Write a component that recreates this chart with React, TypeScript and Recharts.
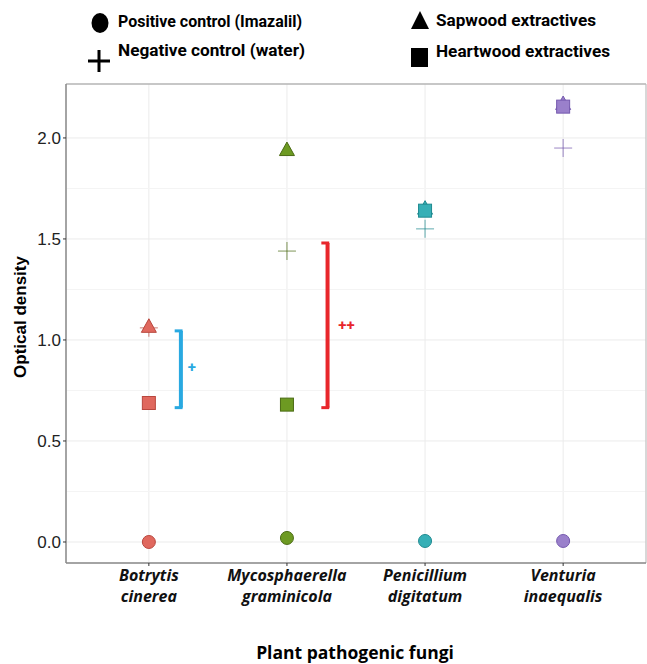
import React from 'react';
import { ScatterChart, Scatter, XAxis, YAxis, CartesianGrid, ReferenceLine, ReferenceDot } from 'recharts';

// fungi (two-line labels, italic)
const fungi = [
  ['Botrytis', 'cinerea'],
  ['Mycosphaerella', 'graminicola'],
  ['Penicillium', 'digitatum'],
  ['Venturia', 'inaequalis'],
];

// optical density
const positiveControl = [0.0, 0.02, 0.005, 0.005];
const negativeControl = [1.06, 1.44, 1.55, 1.95];
const sapwood = [1.065, 1.94, 1.65, 2.168];
const heartwood = [0.688, 0.68, 1.64, 2.155];

// significance brackets
const bracketCategory = [1, 2];
const bracketLow = [0.665, 0.665];
const bracketHigh = [1.045, 1.48];
const bracketLabels = ['+', '++'];

const yTicks = [0, 0.5, 1, 1.5, 2];
const yMinor = [0.25, 0.75, 1.25, 1.75];

const FILL = ['#E0685E', '#6D9A22', '#36AFB6', '#9A80CB'];
const EDGE = ['#B9473E', '#4B6B14', '#1F8A90', '#7559AE'];
const BRACKET = ['#29A9E1', '#E8262B'];

const Y_MIN = -0.104;
const Y_MAX = 2.267;
const X_MIN = 0.4;
const X_MAX = 4.6;

const toRows = (vals: number[]) => vals.map((y, i) => ({ x: i + 1, y, i }));

const Circle = (p: any) => (
  <circle cx={p.cx} cy={p.cy} r={6.5} fill={FILL[p.payload.i]} stroke={EDGE[p.payload.i]} strokeWidth={1} />
);
const Square = (p: any) => (
  <rect x={p.cx - 6.5} y={p.cy - 6.5} width={13} height={13} fill={FILL[p.payload.i]} stroke={EDGE[p.payload.i]} strokeWidth={1} />
);
const Triangle = (p: any) => (
  <path
    d={`M${p.cx},${p.cy - 8} L${p.cx + 7.5},${p.cy + 5.5} L${p.cx - 7.5},${p.cy + 5.5} Z`}
    fill={FILL[p.payload.i]}
    stroke={EDGE[p.payload.i]}
    strokeWidth={1}
  />
);
const Cross = (p: any) => (
  <g stroke={EDGE[p.payload.i]} strokeOpacity={0.6} strokeWidth={1.2}>
    <line x1={p.cx - 9} y1={p.cy} x2={p.cx + 9} y2={p.cy} />
    <line x1={p.cx} y1={p.cy - 9} x2={p.cx} y2={p.cy + 9} />
  </g>
);

const FungusTick = (props: any) => {
  const { x, y, payload } = props;
  const lines = fungi[Math.round(payload.value) - 1] || ['', ''];
  return (
    <text x={x} y={y} textAnchor="middle" fontFamily="Open Sans" fontWeight={700} fontStyle="italic" fontSize={16} fill="#111">
      <tspan x={x} dy={13}>{lines[0]}</tspan>
      <tspan x={x} dy={21}>{lines[1]}</tspan>
    </text>
  );
};

const PlusLabel = (color: string, text: string) => (p: any) => (
  <text x={p.cx} y={p.cy + 5} textAnchor="middle" fontFamily="Roboto" fontWeight={700} fontSize={15} fill={color}>
    {text}
  </text>
);

const Overlay = () => (
  <svg width={647} height={664} style={{ position: 'absolute', left: 0, top: 0, pointerEvents: 'none' }}>
    {/* legend */}
    <ellipse cx={100} cy={23} rx={8.5} ry={10} fill="#000" />
    <text x={118} y={27} fontFamily="Roboto" fontWeight={700} fontSize={17} textLength={184} lengthAdjust="spacingAndGlyphs">
      Positive control (Imazalil)
    </text>
    <rect x={88} y={59.5} width={22} height={3} fill="#000" />
    <rect x={97.5} y={50} width={3} height={22} fill="#000" />
    <text x={118} y={56} fontFamily="Roboto" fontWeight={700} fontSize={17} textLength={187} lengthAdjust="spacingAndGlyphs">
      Negative control (water)
    </text>
    <path d="M420,11 L429,29 L411,29 Z" fill="#000" />
    <text x={436} y={26} fontFamily="Roboto" fontWeight={700} fontSize={17} textLength={160} lengthAdjust="spacingAndGlyphs">
      Sapwood extractives
    </text>
    <rect x={411} y={48} width={17} height={19} fill="#000" />
    <text x={436} y={57} fontFamily="Roboto" fontWeight={700} fontSize={17} textLength={174} lengthAdjust="spacingAndGlyphs">
      Heartwood extractives
    </text>
    {/* axis titles */}
    <text
      transform="translate(26,317) rotate(-90)"
      textAnchor="middle"
      fontFamily="Liberation Sans"
      fontWeight={700}
      fontSize={17}
      fill="#000"
    >
      Optical density
    </text>
    <text x={355} y={659} textAnchor="middle" fontFamily="Open Sans" fontWeight={700} fontSize={17.5} fill="#000">
      Plant pathogenic fungi
    </text>
  </svg>
);

export default function App() {
  return (
    <div style={{ position: 'absolute', left: 0, top: 0, width: 647, height: 664, background: '#fff' }}>
      <ScatterChart width={647} height={664} margin={{ top: 84, right: 1, bottom: 0, left: 0 }}>
        <CartesianGrid stroke="#EBEBEB" strokeDasharray="0" />
        {yMinor.map((v) => (
          <ReferenceLine key={v} y={v} stroke="#F4F4F4" strokeWidth={1} />
        ))}
        <ReferenceLine y={Y_MAX} stroke="#999" strokeWidth={1.2} />
        <ReferenceLine x={X_MAX} stroke="#bbb" strokeWidth={1} />
        <XAxis
          type="number"
          dataKey="x"
          domain={[X_MIN, X_MAX]}
          ticks={[1, 2, 3, 4]}
          allowDataOverflow
          height={101}
          tickSize={3}
          tickLine={{ stroke: '#333' }}
          axisLine={{ stroke: '#888', strokeWidth: 1.5 }}
          tick={<FungusTick />}
          interval={0}
        />
        <YAxis
          type="number"
          dataKey="y"
          domain={[Y_MIN, Y_MAX]}
          ticks={yTicks}
          allowDataOverflow
          width={66}
          tickSize={3}
          tickLine={{ stroke: '#333' }}
          axisLine={{ stroke: '#888', strokeWidth: 1.5 }}
          tickFormatter={(v: number) => v.toFixed(1)}
          tick={{ fontFamily: 'Liberation Sans', fontSize: 17, fill: '#222' }}
        />
        {bracketCategory.map((c, k) => {
          const bx = c + 0.232 + (k === 1 ? 0.062 : 0);
          const col = BRACKET[k];
          return (
            <React.Fragment key={'b' + k}>
              <ReferenceLine segment={[{ x: bx, y: bracketLow[k] }, { x: bx, y: bracketHigh[k] }]} stroke={col} strokeWidth={4} />
              <ReferenceLine segment={[{ x: bx - 0.045, y: bracketHigh[k] }, { x: bx + 0.012, y: bracketHigh[k] }]} stroke={col} strokeWidth={3} />
              <ReferenceLine segment={[{ x: bx - 0.045, y: bracketLow[k] }, { x: bx + 0.012, y: bracketLow[k] }]} stroke={col} strokeWidth={3} />
              <ReferenceDot
                x={bx + (k === 0 ? 0.08 : 0.137)}
                y={(bracketLow[k] + bracketHigh[k]) / 2 + (k === 1 ? 0.0 : 0.01)}
                r={0}
                shape={PlusLabel(col, bracketLabels[k])}
              />
            </React.Fragment>
          );
        })}
        <Scatter data={toRows(positiveControl)} shape={Circle} isAnimationActive={false} />
        <Scatter data={toRows(negativeControl)} shape={Cross} isAnimationActive={false} />
        <Scatter data={toRows(sapwood)} shape={Triangle} isAnimationActive={false} />
        <Scatter data={toRows(heartwood)} shape={Square} isAnimationActive={false} />
      </ScatterChart>
      <Overlay />
    </div>
  );
}
